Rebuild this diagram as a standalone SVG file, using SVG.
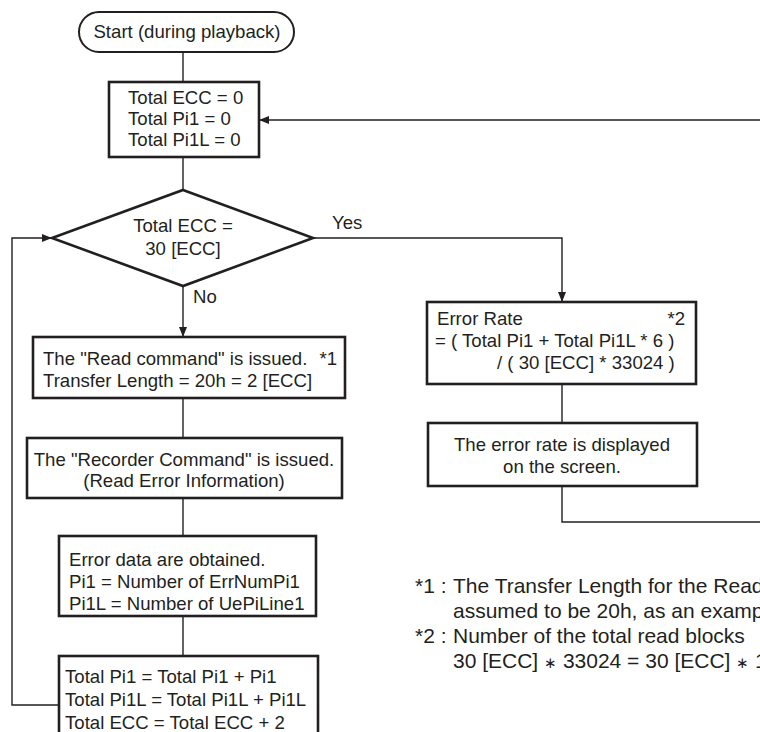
<svg xmlns="http://www.w3.org/2000/svg" width="760" height="732" viewBox="0 0 760 732">
<style>
.box{fill:#fff;stroke:#231f20;stroke-width:2.6}
.term{fill:#fff;stroke:#231f20;stroke-width:2}
.t{font-family:"Liberation Sans",Arial,sans-serif;font-size:18.6px;fill:#231f20}
.n{font-family:"Liberation Sans",Arial,sans-serif;font-size:21px;fill:#231f20}
.c{text-anchor:middle}
.e{text-anchor:end}
.ln{fill:none;stroke:#231f20;stroke-width:1.4}
.ast{font-size:15px}
</style>
<defs>
<marker id="arr" viewBox="0 0 10 8" refX="10" refY="4" markerWidth="10" markerHeight="8" markerUnits="userSpaceOnUse" orient="auto">
<path d="M0,0 L10,4 L0,8 Z" fill="#231f20"/>
</marker>
</defs>
<rect width="760" height="732" fill="#fff"/>
<g id="connectors">
<path class="ln" d="M183,52 V82"/>
<path class="ln" d="M183,157 V190"/>
<path class="ln" d="M313,238 H562 V302" marker-end="url(#arr)"/>
<path class="ln" d="M183,286 V337" marker-end="url(#arr)"/>
<path class="ln" d="M183,398 V438"/>
<path class="ln" d="M183,498 V536"/>
<path class="ln" d="M183,616 V656"/>
<path class="ln" d="M59,705 H12 V238 H52" marker-end="url(#arr)"/>
<path class="ln" d="M562,384 V423"/>
<path class="ln" d="M562,486 V522 H770 V120 H259" marker-end="url(#arr)"/>
<text class="t" x="332" y="229">Yes</text>
<text class="t" x="193" y="303">No</text>
</g>
<g id="start">
<rect class="term" x="79" y="12" width="215" height="40" rx="20" ry="20"/>
<text class="t c" x="187" y="38">Start (during playback)</text>
</g>
<g id="init">
<rect class="box" x="109" y="82" width="150" height="75"/>
<text class="t" x="128" y="104">Total ECC = 0</text>
<text class="t" x="128" y="125">Total Pi1 = 0</text>
<text class="t" x="128" y="146">Total Pi1L = 0</text>
</g>
<g id="decision">
<polygon class="box" points="183,190 313,238 183,286 52,238"/>
<text class="t c" x="183" y="232">Total ECC =</text>
<text class="t c" x="183" y="255">30 [ECC]</text>
</g>
<g id="read">
<rect class="box" x="33" y="337" width="312" height="61"/>
<text class="t" x="43" y="365">The "Read command" is issued.</text>
<text class="t e" x="337" y="365">*1</text>
<text class="t" x="43" y="387">Transfer Length = 20h = 2 [ECC]</text>
</g>
<g id="recorder">
<rect class="box" x="27" y="438" width="315" height="60"/>
<text class="t c" x="184" y="466">The "Recorder Command" is issued.</text>
<text class="t c" x="184" y="487">(Read Error Information)</text>
</g>
<g id="errdata">
<rect class="box" x="59" y="536" width="257" height="80"/>
<text class="t" x="69" y="566">Error data are obtained.</text>
<text class="t" x="69" y="588">Pi1 = Number of ErrNumPi1</text>
<text class="t" x="69" y="610">Pi1L = Number of UePiLine1</text>
</g>
<g id="totals">
<rect class="box" x="59" y="656" width="259" height="100"/>
<text class="t" x="65" y="683">Total Pi1 = Total Pi1 + Pi1</text>
<text class="t" x="65" y="706">Total Pi1L = Total Pi1L + Pi1L</text>
<text class="t" x="65" y="729">Total ECC = Total ECC + 2</text>
</g>
<g id="errrate">
<rect class="box" x="427" y="302" width="269" height="82"/>
<text class="t" x="437" y="325">Error Rate</text>
<text class="t e" x="685" y="325">*2</text>
<text class="t" x="435" y="347">= ( Total Pi1 + Total Pi1L * 6 )</text>
<text class="t" x="497" y="369">/ ( 30 [ECC] * 33024 )</text>
</g>
<g id="display">
<rect class="box" x="428" y="423" width="269" height="63"/>
<text class="t c" x="562" y="451">The error rate is displayed</text>
<text class="t c" x="562" y="473">on the screen.</text>
</g>
<g id="notes">
<text class="n" x="415" y="593">*1 :</text>
<text class="n" x="453" y="593">The Transfer Length for the Read</text>
<text class="n" x="453" y="618">assumed to be 20h, as an example</text>
<text class="n" x="415" y="643">*2 :</text>
<text class="n" x="453" y="643">Number of the total read blocks</text>
<text class="n" x="453" y="668">30 [ECC] <tspan class="ast">∗</tspan> 33024 = 30 [ECC] <tspan class="ast">∗</tspan> 1</text>
</g>
</svg>
